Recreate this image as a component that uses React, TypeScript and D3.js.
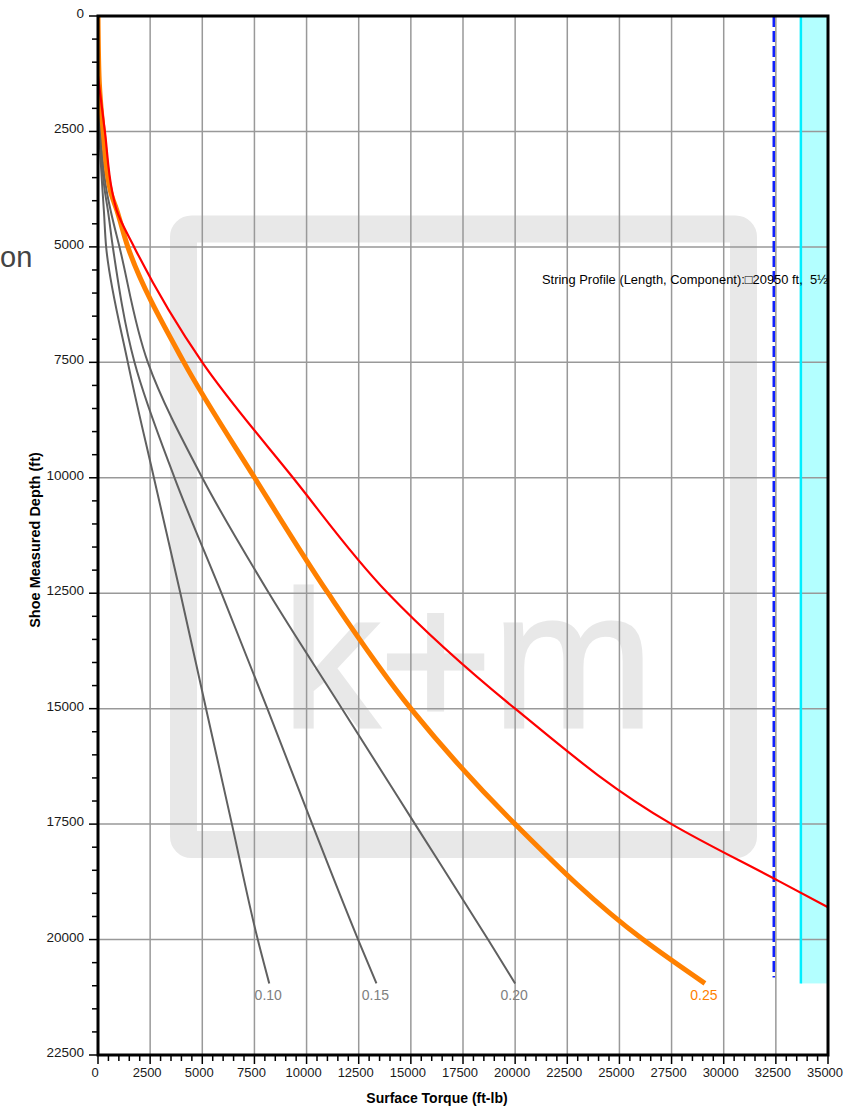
import React from "react";
import * as d3 from "d3";

// depth (ft) at which the torque curves were read
const depths = [0, 1300, 2500, 3800, 4200, 5000, 7500, 10000, 12500, 15000, 17500, 20000, 20950];

// surface torque (ft-lb) for each friction factor
const torque010 = [0, 10, 60, 220, 280, 390, 1430, 2680, 3950, 5180, 6420, 7660, 8210];
const torque015 = [0, 20, 90, 330, 470, 710, 1750, 3670, 5920, 8120, 10270, 12470, 13350];
const torque020 = [0, 30, 120, 420, 600, 1030, 2390, 5000, 8200, 11700, 15200, 18700, 20000];
const torque025 = [0, 50, 250, 600, 900, 1430, 4120, 7510, 11030, 15000, 20000, 26130, 29100];

// red curve
const redDepths = [1300, 2500, 3800, 4200, 5000, 7500, 10000, 12500, 15000, 17500, 18700, 19300];
const redTorque = [0, 330, 680, 890, 1730, 5000, 9350, 13900, 20000, 27500, 32500, 35000];

const torqueLimit = 32400;
const makeupTorque = 33700;
const stringLength = 20950;

const xTicks = [0, 2500, 5000, 7500, 10000, 12500, 15000, 17500, 20000, 22500, 25000, 27500, 30000, 32500, 35000];
const yTicks = [0, 2500, 5000, 7500, 10000, 12500, 15000, 17500, 20000, 22500];

const FONT = "'Liberation Sans', Arial, sans-serif";

export default function App() {
  const width = 845;
  const height = 1107;
  const left = 98, right = 828, top = 16, bottom = 1055;

  const x = d3.scaleLinear().domain([0, 35000]).range([left, right]);
  const y = d3.scaleLinear().domain([0, 22500]).range([top, bottom]);

  const line = d3
    .line<[number, number]>()
    .x((d) => x(d[1]))
    .y((d) => y(d[0]))
    .curve(d3.curveMonotoneY);

  const series = [
    { label: "0.10", torque: torque010, color: "#606060", width: 2, labelColor: "#808080" },
    { label: "0.15", torque: torque015, color: "#606060", width: 2, labelColor: "#808080" },
    { label: "0.20", torque: torque020, color: "#606060", width: 2, labelColor: "#808080" },
    { label: "0.25", torque: torque025, color: "#ff8000", width: 5, labelColor: "#ff8000" },
  ];

  const redPath = line(redDepths.map((d, i) => [d, redTorque[i]] as [number, number]));
  const minorX = d3.range(0, 35001, 500);
  const minorY = d3.range(0, 22501, 500);

  return (
    <svg
      width={width}
      height={height}
      style={{ position: "absolute", left: 0, top: 0, display: "block", background: "#fff" }}
      fontFamily={FONT}
    >
      <defs>
        <clipPath id="plot">
          <rect x={left} y={top} width={right - left} height={bottom - top} />
        </clipPath>
      </defs>

      {/* cut-off title text at the far left */}
      <text x={0} y={267} fontSize={29} fill="#444">on</text>

      {/* watermark */}
      <rect x={183.5} y={229} width={560} height={615.5} rx={8} fill="none" stroke="#e8e8e8" strokeWidth={27} />
      <text
        x={468}
        y={726.5}
        textAnchor="middle"
        fontSize={194}
        fill="#e8e8e8"
        stroke="#e8e8e8"
        strokeWidth={3}
      >
        k+m
      </text>

      {/* makeup torque band */}
      <rect
        x={x(makeupTorque)}
        y={y(0)}
        width={x(35000) - x(makeupTorque)}
        height={y(stringLength) - y(0)}
        fill="#b3ffff"
      />

      {/* grid */}
      {xTicks.map((t) => (
        <line key={`gx-${t}`} x1={x(t)} x2={x(t)} y1={top} y2={bottom} stroke="#999" strokeWidth={1.5} />
      ))}
      {yTicks.map((t) => (
        <line key={`gy-${t}`} x1={left} x2={right} y1={y(t)} y2={y(t)} stroke="#999" strokeWidth={1.5} />
      ))}

      {/* limits */}
      <line x1={x(makeupTorque)} x2={x(makeupTorque)} y1={y(0)} y2={y(stringLength)} stroke="#00eeff" strokeWidth={2.5} />
      <line
        x1={x(torqueLimit)}
        x2={x(torqueLimit)}
        y1={y(0)}
        y2={y(stringLength) - 6}
        stroke="#1020ff"
        strokeWidth={2.5}
        strokeDasharray="11,4"
      />

      {/* torque curves */}
      <g clipPath="url(#plot)" fill="none">
        {series.map((s) => (
          <path
            key={s.label}
            d={line(depths.map((d, i) => [d, s.torque[i]] as [number, number])) || ""}
            stroke={s.color}
            strokeWidth={s.width}
            strokeLinejoin="round"
          />
        ))}
        <path d={redPath || ""} stroke="#ff0000" strokeWidth={2.2} />
      </g>

      {/* curve labels */}
      {series.map((s) => (
        <text
          key={`lab-${s.label}`}
          x={x(s.torque[s.torque.length - 1]) - 1}
          y={y(stringLength) + 17}
          textAnchor="middle"
          fontSize={14}
          fill={s.labelColor}
        >
          {s.label}
        </text>
      ))}

      {/* frame */}
      <rect x={left} y={top} width={right - left} height={bottom - top} fill="none" stroke="#000" strokeWidth={3} />

      {/* x axis ticks */}
      {minorX.map((t) => (
        <line key={`mx-${t}`} x1={x(t)} x2={x(t)} y1={bottom} y2={bottom + (t % 2500 === 0 ? 9 : 6)} stroke="#000" strokeWidth={1.5} />
      ))}
      {xTicks.map((t) => (
        <text key={`tx-${t}`} x={x(t) - 3} y={bottom + 22} textAnchor="middle" fontSize={13} fill="#1a1a1a">
          {t}
        </text>
      ))}

      {/* y axis ticks */}
      {minorY.map((t) => (
        <line key={`my-${t}`} x1={left - (t % 2500 === 0 ? 9 : 6)} x2={left} y1={y(t)} y2={y(t)} stroke="#000" strokeWidth={1.5} />
      ))}
      {yTicks.map((t) => (
        <text key={`ty-${t}`} x={84} y={y(t) + 2} textAnchor="end" fontSize={13.5} fill="#1a1a1a">
          {t}
        </text>
      ))}

      {/* axis titles */}
      <text x={437} y={1103} textAnchor="middle" fontSize={14} fontWeight="bold" fill="#000">
        Surface Torque (ft-lb)
      </text>
      <text
        x={40}
        y={540}
        textAnchor="middle"
        fontSize={14.5}
        fontWeight="bold"
        fill="#000"
        transform="rotate(-90, 40, 540)"
      >
        Shoe Measured Depth (ft)
      </text>

      {/* string profile note */}
      <g clipPath="url(#plot)">
        <text x={542} y={284} fontSize={12.9} fill="#000" style={{ whiteSpace: "pre" }}>
          {"String Profile (Length, Component):\u25A120950 ft,  5\u00BD\""}
        </text>
      </g>
    </svg>
  );
}
